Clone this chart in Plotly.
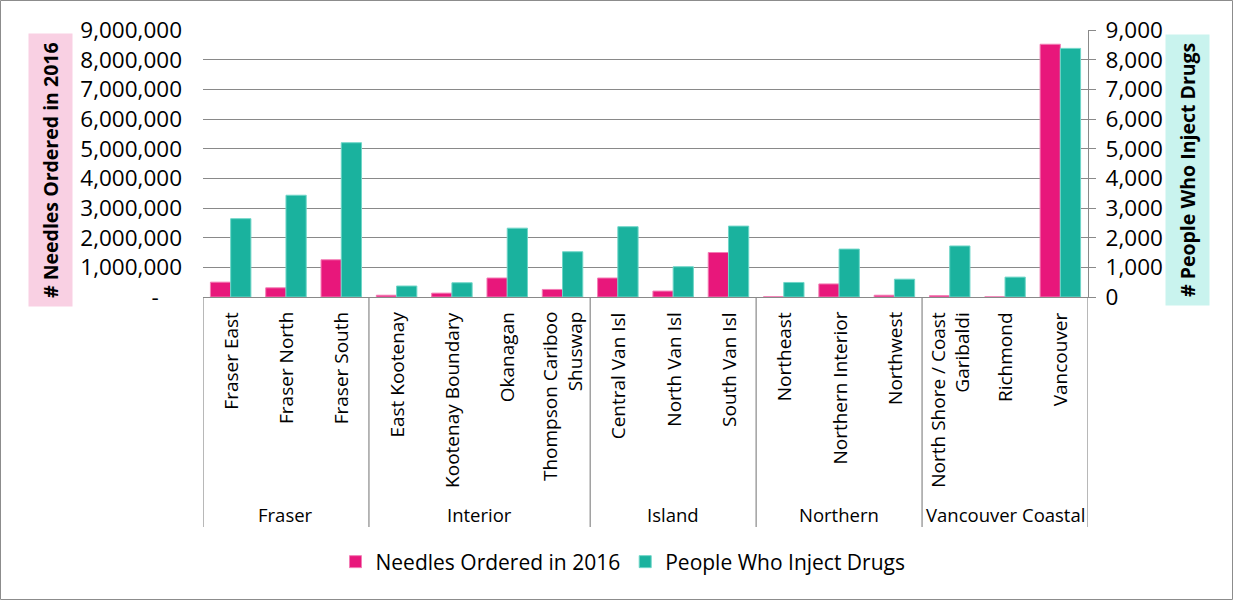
import plotly.graph_objects as go

# ---- data ----
regions = ["Fraser East", "Fraser North", "Fraser South",
           "East Kootenay", "Kootenay Boundary", "Okanagan", "Thompson Cariboo Shuswap",
           "Central Van Isl", "North Van Isl", "South Van Isl",
           "Northeast", "Northern Interior", "Northwest",
           "North Shore / Coast Garibaldi", "Richmond", "Vancouver"]
region_labels = ["Fraser East", "Fraser North", "Fraser South",
                 "East Kootenay", "Kootenay Boundary", "Okanagan", "Thompson Cariboo<br>Shuswap",
                 "Central Van Isl", "North Van Isl", "South Van Isl",
                 "Northeast", "Northern Interior", "Northwest",
                 "North Shore / Coast<br>Garibaldi", "Richmond", "Vancouver"]
groups = ["Fraser", "Interior", "Island", "Northern", "Vancouver Coastal"]
group_sizes = [3, 4, 3, 3, 3]

needles = [500000, 310000, 1255000, 60000, 130000, 640000, 255000,
           640000, 200000, 1500000, 8000, 440000, 60000, 45000, 5000, 8520000]
pwid = [2640, 3430, 5200, 370, 480, 2320, 1525,
        2370, 1020, 2390, 490, 1615, 600, 1720, 670, 8380]

left_ticks = [0, 1000000, 2000000, 3000000, 4000000, 5000000, 6000000, 7000000, 8000000, 9000000]
left_ticktext = ["-\u00a0\u00a0\u00a0\u00a0", "1,000,000", "2,000,000", "3,000,000", "4,000,000",
                 "5,000,000", "6,000,000", "7,000,000", "8,000,000", "9,000,000"]
right_ticks = [0, 1000, 2000, 3000, 4000, 5000, 6000, 7000, 8000, 9000]
right_ticktext = ["0", "1,000", "2,000", "3,000", "4,000", "5,000", "6,000", "7,000", "8,000", "9,000"]

PINK = "#E8177B"
TEAL = "#1AB29E"
GRID = "#898989"
FONT = "Open Sans"

# plot area geometry in pixels
W, H = 1233, 600
L, R, T, B = 203, 1088, 30, 297
pw, ph = R - L, B - T


def px_x(x):
    return (x - L) / pw


def px_y(y):
    return (B - y) / ph


fig = go.Figure()
fig.add_trace(go.Bar(x=regions, y=needles, name="Needles Ordered in 2016",
                     marker=dict(color=PINK, line=dict(color="#F37DB5", width=1)),
                     offsetgroup="a", yaxis="y"))
fig.add_trace(go.Bar(x=regions, y=pwid, name="People Who Inject Drugs",
                     marker=dict(color=TEAL, line=dict(color="#6FD6C8", width=1)),
                     offsetgroup="b", yaxis="y2"))

annotations = []
for r, lab in zip(regions, region_labels):
    annotations.append(dict(x=r, xref="x", y=px_y(310), yref="paper", text=lab,
                            textangle=-90, xanchor="center", yanchor="top", align="right",
                            showarrow=False, font=dict(family=FONT, size=19, color="black")))

shapes = []
idx = 0
bounds = [-0.5]
for g, n in zip(groups, group_sizes):
    annotations.append(dict(x=idx + (n - 1) / 2, xref="x", y=px_y(514), yref="paper", text=g,
                            xanchor="center", yanchor="middle", showarrow=False,
                            font=dict(family=FONT, size=18.5, color="black")))
    idx += n
    bounds.append(idx - 0.5)
for b in bounds:
    shapes.append(dict(type="line", xref="x", yref="paper", x0=b, x1=b,
                       y0=0, y1=px_y(527), line=dict(color=GRID, width=1.2)))

annotations.append(dict(x=px_x(50), xref="paper", y=px_y(170), yref="paper",
                        xanchor="center", yanchor="middle",
                        text="<b># Needles Ordered in 2016</b>", textangle=-90,
                        bgcolor="#F9D0E3", borderpad=8, showarrow=False,
                        font=dict(family=FONT, size=19.5, color="black")))
annotations.append(dict(x=px_x(1187), xref="paper", y=px_y(170), yref="paper",
                        xanchor="center", yanchor="middle",
                        text="<b># People Who Inject Drugs</b>", textangle=-90,
                        bgcolor="#C9F3EE", borderpad=8, showarrow=False,
                        font=dict(family=FONT, size=19.5, color="black")))

# outer frame
shapes.append(dict(type="rect", xref="paper", yref="paper",
                   x0=px_x(0.5), x1=px_x(W - 0.5), y0=px_y(H - 0.5), y1=px_y(0.5),
                   line=dict(color="#8C8C8C", width=1), fillcolor="rgba(0,0,0,0)", layer="below"))

fig.update_layout(
    width=W, height=H,
    margin=dict(l=L, r=W - R, t=T, b=H - B, autoexpand=False),
    paper_bgcolor="white", plot_bgcolor="white",
    barmode="group", bargap=0.268, bargroupgap=0,
    font=dict(family=FONT, color="black"),
    xaxis=dict(type="category", range=[-0.5, len(regions) - 0.5], showticklabels=False,
               showline=True, linecolor=GRID, linewidth=1.2, ticks="", showgrid=False,
               zeroline=False, automargin=False),
    yaxis=dict(range=[0, 9000000], tickvals=left_ticks, ticktext=left_ticktext,
               showgrid=True, gridcolor=GRID, gridwidth=1.2, zeroline=False,
               showline=False, ticks="", ticklabelstandoff=20, automargin=False,
               tickfont=dict(family=FONT, size=22.5, color="black")),
    yaxis2=dict(range=[0, 9000], tickvals=right_ticks, ticktext=right_ticktext,
                overlaying="y", side="right", showgrid=False, zeroline=False,
                showline=True, linecolor=GRID, linewidth=1.2,
                ticks="outside", ticklen=7, tickcolor=GRID, tickwidth=1.2,
                ticklabelstandoff=5, automargin=False,
                tickfont=dict(family=FONT, size=22.5, color="black")),
    yaxis3=dict(range=[0, 9000], tickvals=right_ticks, overlaying="y", side="right",
                showgrid=False, zeroline=False, showline=False, showticklabels=False,
                ticks="inside", ticklen=7, tickcolor=GRID, tickwidth=1.2, automargin=False),
    legend=dict(orientation="h", x=px_x(623), xanchor="center", y=px_y(562), yanchor="middle",
                font=dict(family=FONT, size=21, color="black"), traceorder="normal"),
    annotations=annotations, shapes=shapes,
)
# invisible trace to activate the crossing-tick axis
fig.add_trace(go.Scatter(x=[regions[0]], y=[0], yaxis="y3", mode="markers",
                         marker=dict(opacity=0, size=1), showlegend=False, hoverinfo="skip"))

fig.write_html("out.html")
